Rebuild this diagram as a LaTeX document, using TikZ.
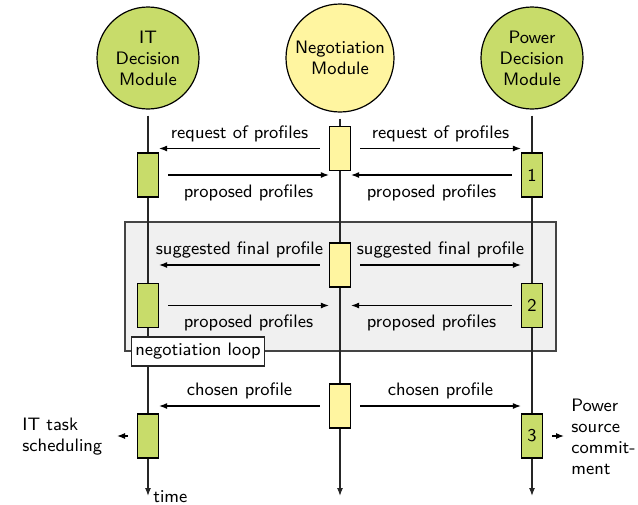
\documentclass[tikz,border=0pt]{standalone}
\usetikzlibrary{arrows.meta}
\definecolor{modgreen}{RGB}{200,220,106}
\definecolor{modyellow}{RGB}{255,245,160}
\definecolor{loopfill}{RGB}{240,240,240}
\definecolor{loopdraw}{RGB}{68,68,68}
\begin{document}
\begin{tikzpicture}[x=0.5pt,y=-0.5pt,
  font=\sffamily\fontsize{9}{10.5}\selectfont,
  module/.style={circle,draw=black,line width=0.6pt,align=center,inner sep=0pt},
  actbox/.style={draw=black,line width=0.6pt,minimum width=10.5pt,minimum height=22pt,inner sep=0pt},
  msg/.style={-{Latex[length=4pt,width=3pt]},line width=0.6pt},
  life/.style={-{Latex[length=4pt,width=3pt]},line width=0.6pt,draw=black!85},
  lbl/.style={inner sep=3pt},
  lblb/.style={inner sep=3pt,yshift=-1.5pt}]
\useasboundingbox (0,0) rectangle (638,504);
% loop frame
\draw[draw=loopdraw,fill=loopfill,line width=0.6pt] (125,222) rectangle (556,351);
% modules
\node[module,fill=modgreen,minimum size=51pt] (it) at (148,58) {IT\\Decision\\Module};
\node[module,fill=modyellow,minimum size=54pt] (neg) at (340,58) {Negotiation\\Module};
\node[module,fill=modgreen,minimum size=51pt] (pw) at (532,58) {Power\\Decision\\Module};
% lifelines
\coordinate (itEnd) at (148,496);
\coordinate (negEnd) at (340,496);
\coordinate (pwEnd) at (532,496);
\draw[life] ([yshift=-3pt]it.south) -- (itEnd);
\draw[life] ([yshift=-3pt]neg.south) -- (negEnd);
\draw[life] ([yshift=-3pt]pw.south) -- (pwEnd);
% activation boxes
\node[actbox,fill=modyellow] (n1) at (340,148.5) {};
\node[actbox,fill=modgreen] (it1) at (148,175) {};
\node[actbox,fill=modgreen] (p1) at (532,175) {1};
\node[actbox,fill=modyellow] (n2) at (340,265) {};
\node[actbox,fill=modgreen] (it2) at (148,305.5) {};
\node[actbox,fill=modgreen] (p2) at (532,305.5) {2};
\node[actbox,fill=modyellow] (n3) at (340,406) {};
\node[actbox,fill=modgreen] (it3) at (148,436) {};
\node[actbox,fill=modgreen] (p3) at (532,436) {3};
% stage 1
\draw[msg] ([xshift=-4.5pt]n1.west) -- (n1.west -| it1.east) node[lbl,midway,above] {request of profiles};
\draw[msg] ([xshift=4.5pt]n1.east) -- (n1.east -| p1.west) node[lbl,midway,above] {request of profiles};
\draw[msg] ([xshift=4.5pt]it1.east) -- (it1.east -| n1.west) node[lblb,midway,below] {proposed profiles};
\draw[msg] ([xshift=-4.5pt]p1.west) -- (p1.west -| n1.east) node[lblb,midway,below] {proposed profiles};
% stage 2
\draw[msg] ([xshift=-4.5pt]n2.west) -- (n2.west -| it2.east) node[lbl,midway,above] {suggested final profile};
\draw[msg] ([xshift=4.5pt]n2.east) -- (n2.east -| p2.west) node[lbl,midway,above] {suggested final profile};
\draw[msg] ([xshift=4.5pt]it2.east) -- (it2.east -| n2.west) node[lblb,midway,below] {proposed profiles};
\draw[msg] ([xshift=-4.5pt]p2.west) -- (p2.west -| n2.east) node[lblb,midway,below] {proposed profiles};
% loop label
\node[draw=black!85,fill=white,line width=0.6pt,minimum width=66pt,minimum height=14.5pt,inner sep=2pt] (looplbl) at (198,351.5) {negotiation loop};
% stage 3
\draw[msg] ([xshift=-4.5pt]n3.west) -- (n3.west -| it3.east) node[lbl,midway,above] {chosen profile};
\draw[msg] ([xshift=4.5pt]n3.east) -- (n3.east -| p3.west) node[lbl,midway,above] {chosen profile};
% outputs
\node[anchor=west,align=left,inner sep=0pt] (itsched) at (22,437) {IT task\\scheduling};
\coordinate (itTip) at (117,436);
\draw[msg] ([xshift=-4.5pt]it3.west) -- (itTip);
\node[anchor=west,align=left,inner sep=0pt] (pwr) at (571,437) {Power\\source\\commit-\\ment};
\coordinate (pwTip) at (564,436);
\draw[msg] ([xshift=4.5pt]p3.east) -- (pwTip);
\node[anchor=west,inner sep=0pt] (time) at (153,497) {time};
\end{tikzpicture}
\end{document}
